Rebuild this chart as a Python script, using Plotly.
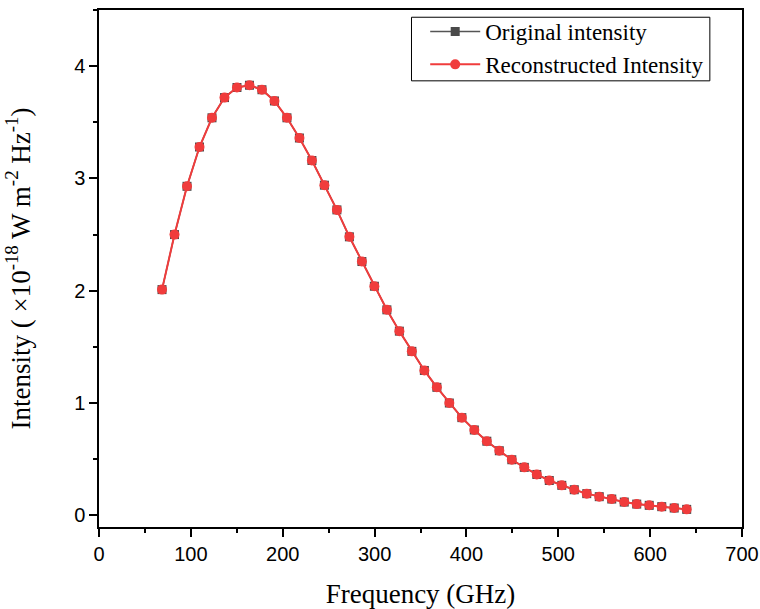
import plotly.graph_objects as go

# frequency grid (GHz)
freq = [68.6, 82.2, 95.8, 109.4, 123.0, 136.6, 150.2, 163.8, 177.4, 191.0,
        204.6, 218.2, 231.8, 245.4, 259.0, 272.6, 286.2, 299.8, 313.4, 327.0,
        340.6, 354.2, 367.8, 381.4, 395.0, 408.6, 422.2, 435.8, 449.4, 463.0,
        476.6, 490.2, 503.8, 517.4, 531.0, 544.6, 558.2, 571.8, 585.4, 599.0,
        612.6, 626.2, 639.8]

# intensity, x1e-18 W m^-2 Hz^-1
original = [2.01, 2.50, 2.93, 3.28, 3.54, 3.72, 3.81, 3.83, 3.79, 3.69,
            3.54, 3.36, 3.16, 2.94, 2.72, 2.48, 2.26, 2.04, 1.83, 1.64,
            1.46, 1.29, 1.14, 1.00, 0.87, 0.76, 0.66, 0.575, 0.495, 0.427,
            0.364, 0.31, 0.267, 0.228, 0.193, 0.166, 0.145, 0.118, 0.10, 0.089,
            0.077, 0.065, 0.053]

reconstructed = [2.01, 2.50, 2.93, 3.28, 3.54, 3.72, 3.81, 3.83, 3.79, 3.69,
                 3.54, 3.36, 3.16, 2.94, 2.72, 2.48, 2.26, 2.04, 1.83, 1.64,
                 1.46, 1.29, 1.14, 1.00, 0.87, 0.76, 0.66, 0.575, 0.495, 0.427,
                 0.364, 0.31, 0.267, 0.228, 0.193, 0.166, 0.145, 0.118, 0.10, 0.089,
                 0.077, 0.065, 0.053]

x_ticks = [0, 100, 200, 300, 400, 500, 600, 700]
y_ticks = [0, 1, 2, 3, 4]

SERIF = "Liberation Serif"
SANS = "Liberation Sans"

fig = go.Figure()
fig.add_trace(go.Scatter(
    x=freq, y=original, mode="lines+markers", name="Original intensity",
    line=dict(color="#555555", width=1.5),
    marker=dict(symbol="square", size=9, color="#4a4a4a"),
))
fig.add_trace(go.Scatter(
    x=freq, y=reconstructed, mode="lines+markers", name="Reconstructed Intensity",
    line=dict(color="#f03c3c", width=2),
    marker=dict(symbol="circle", size=10, color="#f03c3c"),
))

axis_common = dict(
    showline=True, linecolor="black", linewidth=1.5, mirror=True,
    ticks="outside", ticklen=8, tickwidth=1.5, tickcolor="black",
    showgrid=False, zeroline=False, automargin=False,
    tickfont=dict(family=SANS, size=20, color="black"),
)

fig.update_xaxes(
    range=[0, 700], tickvals=x_ticks,
    minor=dict(ticks="outside", ticklen=4, tickwidth=1.5, tickcolor="black", dtick=50, showgrid=False),
    title=dict(text="Frequency (GHz)", font=dict(family=SERIF, size=27, color="black"), standoff=20),
    **axis_common,
)
fig.update_yaxes(
    range=[-0.104, 4.5], tickvals=y_ticks,
    minor=dict(ticks="outside", ticklen=4, tickwidth=1.5, tickcolor="black", dtick=0.5, showgrid=False),
    title=dict(text="Intensity ( \u00d710<sup>-18</sup> W m<sup>-2</sup> Hz<sup>-1</sup>)",
               font=dict(family=SERIF, size=27, color="black"), standoff=36),
    **axis_common,
)

# legend frame drawn as a shape so its height can follow the reference
fig.add_shape(type="rect", xref="paper", yref="paper",
              x0=0.486, x1=0.950, y0=0.863, y1=0.986,
              line=dict(color="black", width=1), fillcolor="rgba(0,0,0,0)", layer="above")

fig.update_layout(
    width=760, height=609,
    margin=dict(l=99, r=18, t=10, b=82),
    plot_bgcolor="white", paper_bgcolor="white",
    showlegend=True,
    legend=dict(
        x=0.949, y=1.0, xanchor="right", yanchor="top",
        borderwidth=0, bgcolor="rgba(0,0,0,0)",
        font=dict(family=SERIF, size=23, color="black"),
        tracegroupgap=0, itemwidth=50,
    ),
)

# page body has a default 8px margin; drop it so the figure sits at the window corner
fig.write_html("out.html", config={"displayModeBar": False},
               post_script="document.body.style.margin='0';")
